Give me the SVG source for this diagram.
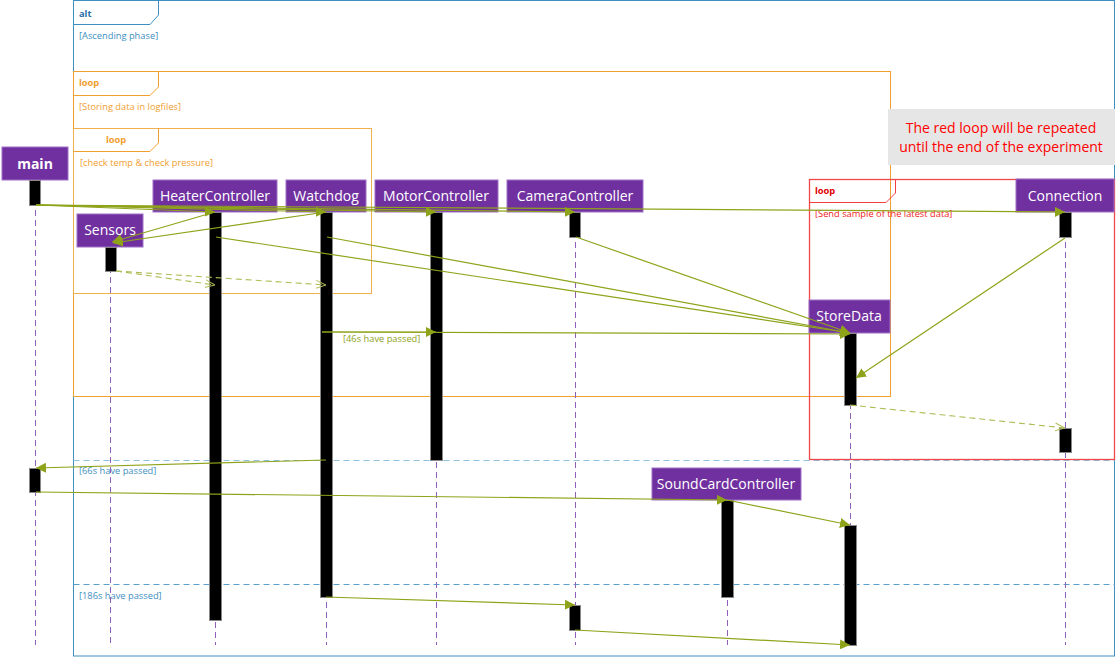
<svg xmlns="http://www.w3.org/2000/svg" width="1116" height="657" viewBox="0 0 1116 657">
<style>
.node rect{fill:#7030a0;stroke:#a070c8;stroke-width:1}
.node text{fill:#fff;font-family:"Open Sans","Noto Sans",sans-serif;font-size:14px;text-anchor:middle}
.life{stroke:#9060b8;stroke-width:1;stroke-dasharray:6,4;fill:none}
.act{fill:#000;stroke:#888;stroke-width:1}
.msg{stroke:#8fa31a;stroke-width:1.2;fill:none;marker-end:url(#ah)}
.ret{stroke:#b0bc55;stroke-width:1.1;fill:none;stroke-dasharray:6,4;marker-end:url(#oa)}
.ft{font-family:"Open Sans","Noto Sans",sans-serif;font-size:9.3px}
</style>
<defs>
<marker id="ah" viewBox="0 0 10 10" refX="10" refY="5" markerWidth="10" markerHeight="10" markerUnits="userSpaceOnUse" orient="auto"><path d="M0,0 L10,5 L0,10 z" fill="#8fa31a"/></marker>
<marker id="oa" viewBox="0 0 10 10" refX="10" refY="5" markerWidth="10" markerHeight="10" markerUnits="userSpaceOnUse" orient="auto"><path d="M0,1 L10,5 L0,9" fill="none" stroke="#b0bc55" stroke-width="1"/></marker>
</defs>
<rect width="1116" height="657" fill="#fff"/>

<g id="frames">
<rect x="73.5" y="0.5" width="1041" height="655.5" fill="none" stroke="#3f8fc0" stroke-width="1"/>
<path d="M73.5,24.5 H150 L158.5,15 V0.5" fill="none" stroke="#3f8fc0"/>
<text x="79" y="17" class="ft" fill="#2a6fa8" font-weight="bold">alt</text>
<text x="79" y="39" class="ft" fill="#3f8fc0">[Ascending phase]</text>
<line x1="73.5" y1="460.5" x2="1114.5" y2="460.5" stroke="#8ec0e0" stroke-dasharray="6,4"/>
<text x="79" y="474" class="ft" fill="#3f8fc0">[66s have passed]</text>
<line x1="73.5" y1="584.5" x2="1114.5" y2="584.5" stroke="#5aa0cc" stroke-dasharray="6,4"/>
<text x="79" y="599" class="ft" fill="#3f8fc0">[186s have passed]</text>
<rect x="73.5" y="71.5" width="817" height="325" fill="none" stroke="#f0a030"/>
<path d="M73.5,95.5 H150 L158.5,87 V71.5" fill="none" stroke="#f0a030"/>
<text x="79" y="86" class="ft" fill="#f0a030" font-weight="bold">loop</text>
<text x="79" y="110" class="ft" fill="#f0a030">[Storing data in logfiles]</text>
<rect x="73.5" y="128.5" width="298" height="165" fill="none" stroke="#f0b050"/>
<path d="M73.5,151.5 H150 L158.5,143 V128.5" fill="none" stroke="#f0a030"/>
<text x="106" y="143" class="ft" fill="#f0a030" font-weight="bold">loop</text>
<text x="80" y="166" class="ft" fill="#f0a030">[check temp &amp; check pressure]</text>
<rect x="809.5" y="179.5" width="305" height="280" fill="none" stroke="#f04848" stroke-width="1.3"/>
<path d="M809.5,202.5 H886 L895.5,193 V179.5" fill="none" stroke="#f04040"/>
<text x="815" y="194" class="ft" fill="#e00000" font-weight="bold">loop</text>
<text x="815" y="217" class="ft" fill="#f02020">[Send sample of the latest data]</text>
</g>

<g id="note">
<rect x="888" y="109" width="227" height="56" fill="#e6e6e6"/>
<text x="1001" y="133" font-family="Open Sans,Noto Sans,sans-serif" font-size="14" fill="#ff0000" text-anchor="middle">The red loop will be repeated</text>
<text x="1001" y="152" font-family="Open Sans,Noto Sans,sans-serif" font-size="14" fill="#ff0000" text-anchor="middle">until the end of the experiment</text>
</g>

<g id="lifelines">
<line class="life" x1="35.5" y1="180" x2="35.5" y2="645"/>
<line class="life" x1="110.5" y1="247" x2="110.5" y2="645" stroke="#b090d0"/>
<line class="life" x1="215.5" y1="212" x2="215.5" y2="645"/>
<line class="life" x1="326.5" y1="212" x2="326.5" y2="645"/>
<line class="life" x1="436.5" y1="212" x2="436.5" y2="645"/>
<line class="life" x1="575.5" y1="212" x2="575.5" y2="645"/>
<line class="life" x1="727.5" y1="500" x2="727.5" y2="645"/>
<line class="life" x1="850.5" y1="333" x2="850.5" y2="645"/>
<line class="life" x1="1065.5" y1="212" x2="1065.5" y2="645"/>
</g>

<g id="main" class="node"><rect x="2" y="147" width="66" height="33"/><text x="35" y="169" font-weight="bold" font-size="14">main</text></g>
<g id="HeaterController" class="node"><rect x="153" y="180" width="124" height="32"/><text x="215" y="201">HeaterController</text></g>
<g id="Watchdog" class="node"><rect x="286" y="180" width="80" height="32"/><text x="326" y="201">Watchdog</text></g>
<g id="MotorController" class="node"><rect x="375" y="180" width="123" height="32"/><text x="436" y="201">MotorController</text></g>
<g id="CameraController" class="node"><rect x="507" y="180" width="136" height="32"/><text x="575" y="201">CameraController</text></g>
<g id="Connection" class="node"><rect x="1016" y="179" width="98" height="33"/><text x="1065" y="201">Connection</text></g>
<g id="Sensors" class="node"><rect x="77" y="214" width="66" height="33"/><text x="110" y="235">Sensors</text></g>
<g id="StoreData" class="node"><rect x="809" y="300" width="81" height="33"/><text x="849" y="321">StoreData</text></g>
<g id="SoundCardController" class="node"><rect x="652" y="468" width="149" height="32"/><text x="726" y="489">SoundCardController</text></g>

<g id="activations">
<rect class="act" x="29.5" y="180.5" width="11" height="25"/>
<rect class="act" x="29.5" y="468.5" width="11" height="24"/>
<rect class="act" x="105.5" y="247.5" width="11" height="24"/>
<rect class="act" x="209.5" y="212.5" width="12" height="408"/>
<rect class="act" x="320.5" y="212.5" width="12" height="385"/>
<rect class="act" x="430.5" y="212.5" width="12" height="248"/>
<rect class="act" x="569.5" y="212.5" width="11" height="25"/>
<rect class="act" x="569.5" y="605.5" width="11" height="25"/>
<rect class="act" x="1059.5" y="212.5" width="12" height="25"/>
<rect class="act" x="1059.5" y="428.5" width="12" height="24"/>
<rect class="act" x="844.5" y="333.5" width="12" height="72"/>
<rect class="act" x="844.5" y="525.5" width="12" height="120"/>
<rect class="act" x="721.5" y="500.5" width="12" height="97"/>
</g>

<g id="connectors">
<line class="msg" x1="36" y1="205" x2="215" y2="212"/>
<line class="msg" x1="36" y1="205" x2="326" y2="212"/>
<line class="msg" x1="36" y1="205" x2="436" y2="212"/>
<line class="msg" x1="36" y1="205" x2="575" y2="212"/>
<line class="msg" x1="36" y1="205" x2="1065" y2="212"/>
<line class="msg" x1="215" y1="212" x2="112" y2="242"/>
<line class="msg" x1="326" y1="212" x2="113" y2="243"/>
<line class="ret" x1="116" y1="271" x2="215" y2="285"/>
<line class="ret" x1="116" y1="271" x2="326" y2="285"/>
<line class="msg" x1="216" y1="237" x2="850" y2="333"/>
<line class="msg" x1="327" y1="237" x2="850" y2="333"/>
<line class="msg" x1="576" y1="237" x2="850" y2="333"/>
<line class="msg" x1="1065" y1="238" x2="856" y2="378"/>
<line class="msg" x1="322" y1="332" x2="436" y2="332"/>
<line class="msg" x1="322" y1="332" x2="850" y2="334"/>
<line class="ret" x1="850" y1="405" x2="1065" y2="428"/>
<line class="msg" x1="326" y1="460" x2="36" y2="468"/>
<line class="msg" x1="36" y1="492" x2="727" y2="500"/>
<line class="msg" x1="727" y1="500" x2="850" y2="525"/>
<line class="msg" x1="326" y1="597" x2="575" y2="605"/>
<line class="msg" x1="575" y1="630" x2="850" y2="645"/>
<text x="343" y="342" class="ft" fill="#8fa31a">[46s have passed]</text>
</g>
</svg>
